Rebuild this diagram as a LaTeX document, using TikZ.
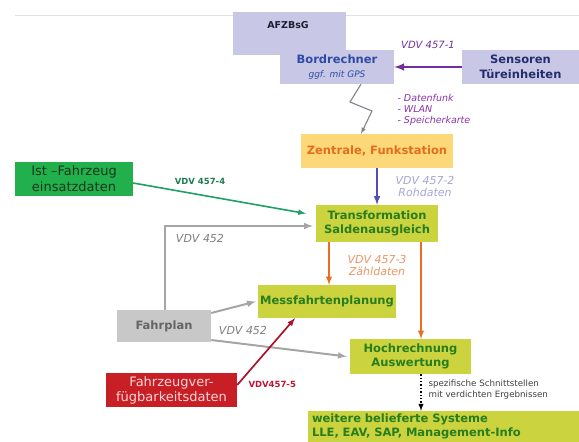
\documentclass[tikz,border=0pt]{standalone}
\usepackage{fontspec}
\setmainfont{DejaVu Sans}
\usepackage{xcolor}

\definecolor{lav}{RGB}{200,200,230}
\definecolor{navy}{RGB}{35,45,110}
\definecolor{bordblue}{RGB}{45,75,165}
\definecolor{afzcol}{RGB}{30,30,50}
\definecolor{zentfill}{RGB}{253,216,120}
\definecolor{zenttext}{RGB}{225,110,30}
\definecolor{yg}{RGB}{203,211,62}
\definecolor{dgreen}{RGB}{40,125,30}
\definecolor{istfill}{RGB}{34,176,76}
\definecolor{isttext}{RGB}{25,55,30}
\definecolor{redfill}{RGB}{200,30,38}
\definecolor{redtext}{RGB}{250,215,215}
\definecolor{planfill}{RGB}{200,200,200}
\definecolor{plantext}{RGB}{100,100,100}
\definecolor{topline}{RGB}{225,225,225}
\definecolor{purpl}{RGB}{112,48,160}
\definecolor{lilac}{RGB}{140,50,170}
\definecolor{slate}{RGB}{80,80,180}
\definecolor{pale}{RGB}{165,165,215}
\definecolor{teal}{RGB}{30,160,100}
\definecolor{tealtext}{RGB}{30,125,80}
\definecolor{lgray}{RGB}{165,165,165}
\definecolor{mgray}{RGB}{125,125,125}
\definecolor{orng}{RGB}{235,110,30}
\definecolor{lorng}{RGB}{235,150,100}
\definecolor{dred}{RGB}{170,20,40}
\definecolor{lred}{RGB}{190,20,50}
\definecolor{zap}{RGB}{130,130,140}

\begin{document}
\begin{tikzpicture}[>=latex, x=1pt, y=-1pt,
    box/.style={align=center, inner sep=1pt, font=\fontsize{11.5}{13.5}\selectfont\bfseries},
    lavbox/.style={box, fill=lav, text=navy},
    ygbox/.style={box, fill=yg, text=dgreen},
    lbl/.style={align=center, font=\fontsize{11}{12}\selectfont\itshape},
    tag/.style={font=\fontsize{8.5}{10}\selectfont\bfseries},
    conn/.style={->, line width=2pt}]

    \useasboundingbox (0,0) rectangle (579,442);

    % Draw the header line
    \draw[topline, line width=1pt] (15,15) -- (579,15);

    % Draw the vehicle side
    \node[lavbox, minimum width=113pt, minimum height=43pt] (afz) at (289.5,33.5) {};
    \node[text=afzcol, font=\fontsize{9.5}{11}\selectfont\bfseries] (afzname) at (288,25) {AFZBsG};
    \node[lavbox, text=bordblue, minimum width=114pt, minimum height=34pt] (bord) at (337,67)
        {Bordrechner\\{\fontsize{9}{10}\selectfont\mdseries\itshape ggf. mit GPS}};
    \node[lavbox, minimum width=117pt, minimum height=34pt] (sens) at (520.5,67)
        {Sensoren\\[1pt]Türeinheiten};

    % Draw the central boxes
    \node[box, fill=zentfill, text=zenttext, minimum width=152pt, minimum height=34pt] (zent) at (377,151)
        {Zentrale, Funkstation};
    \node[ygbox, minimum width=122pt, minimum height=37pt] (trans) at (377,223.5)
        {Transformation\\Saldenausgleich};
    \node[ygbox, minimum width=138pt, minimum height=33pt] (mess) at (327,301.5)
        {Messfahrtenplanung};
    \node[ygbox, minimum width=121pt, minimum height=35pt] (hoch) at (410.5,356.5)
        {Hochrechnung\\Auswertung};
    \node[ygbox, align=left, text width=263pt, inner xsep=4pt, minimum height=31pt] (weit) at (443.5,426.5)
        {weitere belieferte Systeme\\LLE, EAV, SAP, Management-Info};

    % Draw the input boxes
    \node[box, fill=istfill, text=isttext, font=\fontsize{13}{16}\selectfont, minimum width=118pt, minimum height=34pt] (ist) at (74,179)
        {Ist --Fahrzeug\\einsatzdaten};
    \node[box, fill=planfill, text=plantext, minimum width=94pt, minimum height=32pt] (plan) at (164,326)
        {Fahrplan};
    \node[box, fill=redfill, text=redtext, font=\fontsize{13}{15}\selectfont, minimum width=131pt, minimum height=34pt] (fzv) at (171.5,390)
        {Fahrzeugver-\\fügbarkeitsdaten};

    % Define the lightning bends
    \coordinate (zz1) at (350,102);
    \coordinate (zz2) at (372,111);

    % Draw the connectors
    \draw[conn, purpl, line width=2.4pt] (sens.west) -- (bord.east);
    \draw[->, zap, line width=1.1pt] ([xshift=24pt]bord.south) -- (zz1) -- (zz2) -- ([xshift=-16pt]zent.north);
    \draw[conn, slate] (zent.south) -- (trans.north);
    \draw[conn, teal, line width=1.6pt] ([yshift=-4pt]ist.east) -- ([xshift=-10pt,yshift=10pt]trans.west);
    \draw[conn, lgray] ([xshift=1pt]plan.north) |- ([xshift=-3pt,yshift=-2.5pt]trans.west);
    \draw[conn, orng, line width=1.8pt] ([xshift=-48pt]trans.south) -- ([xshift=-48pt]trans.south |- mess.north);
    \draw[conn, orng, line width=1.8pt] ([xshift=44pt]trans.south) -- ([xshift=44pt]trans.south |- hoch.north);
    \draw[conn, lgray] ([yshift=13pt]plan.east) -- ([xshift=-2pt]mess.west);
    \draw[conn, lgray] ([yshift=-14pt]plan.east) -- ([xshift=-3pt]hoch.west);
    \draw[conn, dred, line width=1.7pt] ([yshift=5pt]fzv.east) -- ([xshift=-32pt]mess.south);
    \draw[->, line width=1.4pt, dotted] ([xshift=10.5pt]hoch.south) -- ([xshift=10.5pt]hoch.south |- weit.north);

    % Draw the connector labels
    \node[lbl, text=purpl, font=\fontsize{10}{11}\selectfont\itshape] (l1) at (428,45) {VDV 457-1};
    \node[anchor=north west, align=left, text=lilac, font=\fontsize{9.5}{11}\selectfont\itshape] (funk) at (394,91)
        {- Datenfunk\\- WLAN\\- Speicherkarte};
    \node[lbl, text=pale] (l2) at (425,186) {VDV 457-2\\Rohdaten};
    \node[tag, text=tealtext] (l4) at (200,181) {VDV 457-4};
    \node[lbl, text=mgray] (l452a) at (200,238) {VDV 452};
    \node[lbl, text=lorng] (l3) at (377,265) {VDV 457-3\\Zähldaten};
    \node[lbl, text=mgray] (l452b) at (243,330) {VDV 452};
    \node[tag, text=lred, anchor=west] (l5) at (245,384) {VDV457-5};
    \node[anchor=north west, align=left, text=black!75, font=\fontsize{8.7}{11}\selectfont] (spez) at (425,376)
        {spezifische Schnittstellen\\mit verdichten Ergebnissen};
\end{tikzpicture}
\end{document}
